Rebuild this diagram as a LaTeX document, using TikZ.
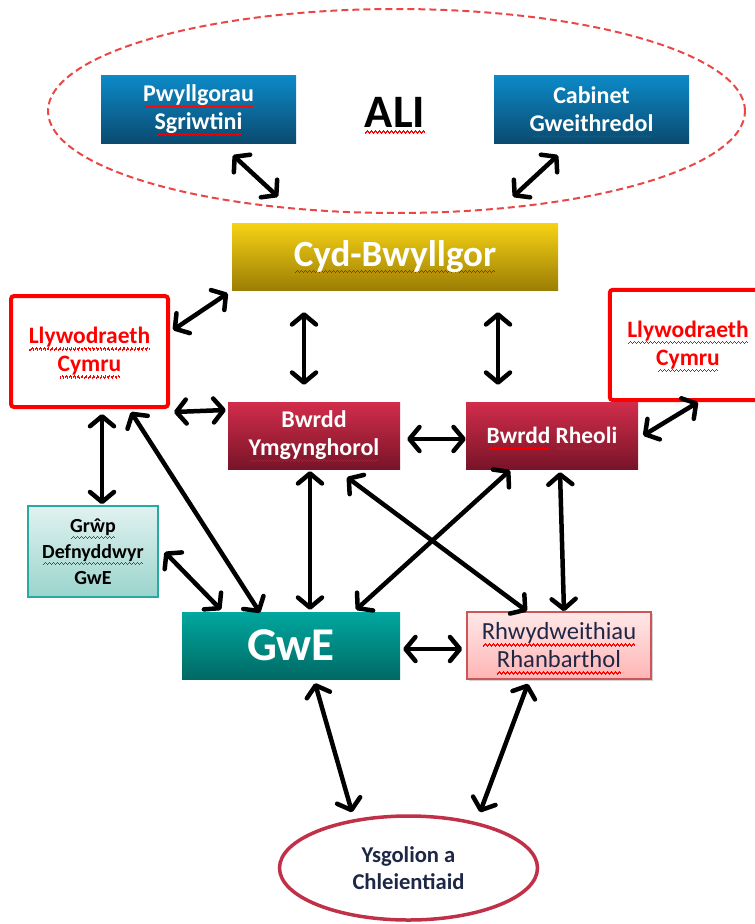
\documentclass[tikz,border=0pt]{standalone}
\usepackage{fontspec}
\setmainfont{Carlito}
\usetikzlibrary{arrows.meta,shapes.geometric,shadows}
\newbox\sqbox
\newcommand\wavebit{\hbox{\rule[-6.6pt]{1pt}{1.2pt}\rule[-5.6pt]{1pt}{1.2pt}\rule[-4.6pt]{1pt}{1.2pt}\rule[-5.6pt]{1pt}{1.2pt}}}
\newcommand\sqg[1]{\leavevmode\setbox\sqbox\hbox{#1}\rlap{\vbox to 0pt{\hbox to \wd\sqbox{\color{red}\cleaders\wavebit\hfil}\vss}}\box\sqbox\relax}
\definecolor{blueT}{RGB}{12,138,200}
\definecolor{blueB}{RGB}{10,75,112}
\definecolor{yelT}{RGB}{246,210,20}
\definecolor{yelB}{RGB}{155,125,5}
\definecolor{crT}{RGB}{210,45,75}
\definecolor{crB}{RGB}{120,20,40}
\definecolor{tealT}{RGB}{0,168,160}
\definecolor{tealB}{RGB}{0,105,100}
\definecolor{grpT}{RGB}{225,242,240}
\definecolor{grpB}{RGB}{155,212,205}
\definecolor{grpD}{RGB}{40,170,160}
\definecolor{rhwT}{RGB}{255,232,232}
\definecolor{rhwB}{RGB}{255,180,180}
\definecolor{rhwD}{RGB}{205,85,85}
\definecolor{ysgC}{RGB}{192,48,72}
\definecolor{dashC}{RGB}{235,70,70}
\definecolor{navyT}{RGB}{30,40,70}
\begin{document}
\begin{tikzpicture}[x=1pt,y=-1pt,
  box/.style={rectangle, inner sep=0pt, align=center, font=\bfseries\fontsize{24}{28}\selectfont},
  whitebox/.style={box, text=white},
  govbox/.style={box, draw=red, line width=4pt, rounded corners=3pt, fill=white, text=red, font=\bfseries\fontsize{23.5}{28}\selectfont},
  arr/.style={line width=4.5pt, {Straight Barb[length=10pt,width=24pt,round]}-{Straight Barb[length=10pt,width=24pt,round]}}
]
\useasboundingbox (0,0) rectangle (755,924);

% ALI ellipse
\node[ellipse, draw=dashC, line width=2pt, dash pattern=on 7pt off 4pt, minimum width=697, minimum height=204] (aliell) at (396.5,111) {};
\node[font=\bfseries\fontsize{46.5}{50}\selectfont] (ali) at (395,112) {\sqg{ALI}};

\node[whitebox, top color=blueT, bottom color=blueB, minimum width=195, minimum height=68] (pwy) at (198.5,109) {\sqg{Pwyllgorau}\\\sqg{Sgriwtini}};
\node[whitebox, top color=blueT, bottom color=blueB, minimum width=195, minimum height=68] (cab) at (591.5,109) {Cabinet\\\sqg{Gweithredol}};

\node[whitebox, top color=yelT, bottom color=yelB, minimum width=326, minimum height=67, font=\bfseries\fontsize{37}{40}\selectfont] (cyd) at (395,257) {\sqg{Cyd-Bwyllgor}};

\node[govbox, minimum width=157, minimum height=111] (llyL) at (89.5,351.5) {\sqg{Llywodraeth}\\\sqg{Cymru}};
\node[box, fill=white, text=red, font=\bfseries\fontsize{23.5}{28}\selectfont, minimum width=156, minimum height=110] (llyR) at (688,345) {\sqg{Llywodraeth}\\\sqg{Cymru}};
\draw[red, line width=4pt, rounded corners=3pt] ([xshift=60pt]llyR.north east) -- (llyR.north west) -- (llyR.south west) -- ([xshift=60pt]llyR.south east);

\node[whitebox, top color=crT, bottom color=crB, minimum width=172, minimum height=67] (ymg) at (314,435.5) {\sqg{Bwrdd}\\\sqg{Ymgynghorol}};
\node[whitebox, top color=crT, bottom color=crB, minimum width=172, minimum height=67, font=\bfseries\fontsize{23.4}{28}\selectfont] (rhe) at (552,435.5) {\sqg{Bwrdd} \sqg{Rheoli}};

\node[box, draw=grpD, line width=1.5pt, top color=grpT, bottom color=grpB, minimum width=130, minimum height=91, font=\bfseries\fontsize{20}{26}\selectfont] (grp) at (93,551.5) {\sqg{Grŵp}\\\sqg{Defnyddwyr}\\GwE};

\node[whitebox, top color=tealT, bottom color=tealB, minimum width=218, minimum height=67, font=\bfseries\fontsize{47}{50}\selectfont] (gwe) at (291,645.5) {GwE};

\node[box, draw=rhwD, line width=1.5pt, top color=rhwT, bottom color=rhwB, minimum width=184, minimum height=67, text=navyT, font=\fontsize{24.6}{28}\selectfont, drop shadow={shadow xshift=2pt, shadow yshift=-2pt, opacity=0.35}] (rhw) at (559,645.5) {\sqg{Rhwydweithiau}\\\sqg{Rhanbarthol}};

\node[ellipse, draw=ysgC, line width=3.5pt, fill=white, minimum width=258, minimum height=104, align=center, text=navyT, font=\bfseries\fontsize{22.6}{27}\selectfont] (ysg) at (408.5,868) {Ysgolion a\\Chleientiaid};

% connectors
\draw[arr] ([shift={(34.5,12)}]pwy.south) -- ([shift={(-117,-26.5)}]cyd.north);
\draw[arr] ([shift={(-33.5,12)}]cab.south) -- ([shift={(118,-26.5)}]cyd.north);
\draw[arr] ([shift={(-4,2.5)}]cyd.south west) -- ([shift={(3,-21.5)}]llyL.east);
\draw[arr] ([shift={(-91,21.5)}]cyd.south) -- ([shift={(-10,-17)}]ymg.north);
\draw[arr] ([shift={(103,21.5)}]cyd.south) -- ([shift={(-54,-17)}]rhe.north);
\draw[arr] ([shift={(4,3)}]llyL.south east) -- ([shift={(-2,-25.5)}]ymg.west);
\draw[arr] ([shift={(7,3.5)}]ymg.east) -- ([shift={(0,3.5)}]rhe.west);
\draw[arr] ([shift={(10,2)}]llyR.south) -- ([shift={(5,0)}]rhe.east);
\draw[arr] ([shift={(12.5,5)}]llyL.south) -- ([shift={(9,-1)}]grp.north);
\draw[arr] ([shift={(41.5,3)}]llyL.south) -- ([shift={(-31,1)}]gwe.north);
\draw[arr] ([shift={(6,0.5)}]grp.east) -- ([shift={(-70,-2)}]gwe.north);
\draw[arr] ([shift={(-4,2)}]ymg.south) -- ([shift={(19,-2)}]gwe.north);
\draw[arr] ([shift={(-42,1)}]rhe.south) -- ([shift={(65,-2)}]gwe.north);
\draw[arr] ([shift={(33,8)}]ymg.south) -- ([shift={(-32,0)}]rhw.north);
\draw[arr] ([shift={(8,3)}]rhe.south) -- ([shift={(5,0)}]rhw.north);
\draw[arr] ([shift={(3,3.5)}]gwe.east) -- ([shift={(-4,3.5)}]rhw.west);
\draw[arr] ([shift={(24,4)}]gwe.south) -- ([shift={(-56.5,-2)}]ysg.north);
\draw[arr] ([shift={(-31,4)}]rhw.south) -- ([shift={(71.5,-2)}]ysg.north);
\end{tikzpicture}
\end{document}
